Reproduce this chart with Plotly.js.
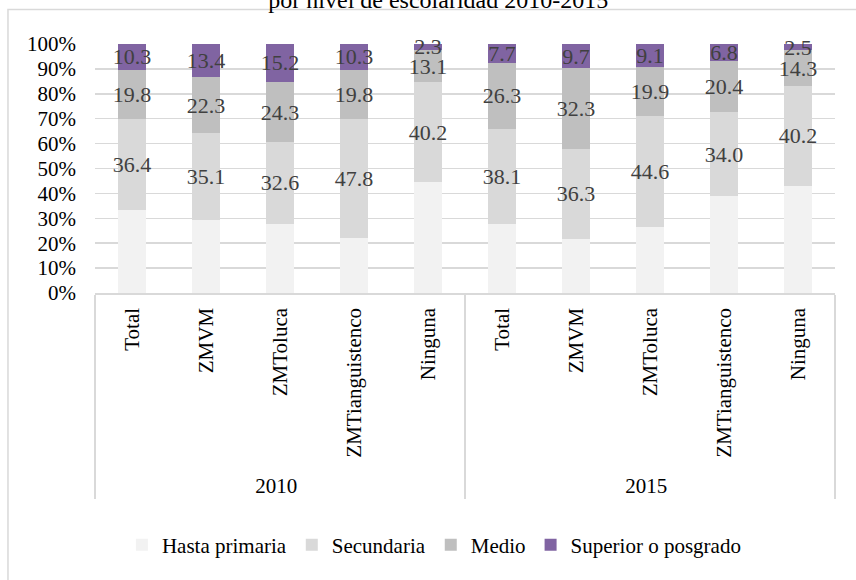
<!DOCTYPE html>
<html>
<head>
<meta charset="utf-8">
<script src="https://cdn.plot.ly/plotly-3.0.1.min.js"></script>
<style>html,body{margin:0;padding:0;background:#fff;}#chart{width:856px;height:580px;}</style>
</head>
<body>
<div id="chart"></div>
<script>
const years = ['2010','2010','2010','2010','2010','2015','2015','2015','2015','2015'];
const regions = ['Total','ZMVM','ZMToluca','ZMTianguistenco','Ninguna','Total','ZMVM','ZMToluca','ZMTianguistenco','Ninguna'];
const hastaPrimaria = [33.5, 29.2, 27.9, 22.1, 44.4, 27.9, 21.7, 26.4, 38.8, 43.0];
const secundaria = [36.4, 35.1, 32.6, 47.8, 40.2, 38.1, 36.3, 44.6, 34.0, 40.2];
const medio = [19.8, 22.3, 24.3, 19.8, 13.1, 26.3, 32.3, 19.9, 20.4, 14.3];
const superior = [10.3, 13.4, 15.2, 10.3, 2.3, 7.7, 9.7, 9.1, 6.8, 2.5];
const seriesNames = ['Hasta primaria','Secundaria','Medio','Superior o posgrado'];
const titleText = 'por nivel de escolaridad 2010-2015';

const colors = ['#f2f2f2','#d9d9d9','#bfbfbf','#8064a2'];
const serif = "'Liberation Serif', 'Times New Roman', Times, serif";
const vals = [hastaPrimaria, secundaria, medio, superior];

const traces = vals.map((v, i) => ({
  type: 'bar',
  name: seriesNames[i],
  x: [years, regions],
  y: v,
  marker: {color: colors[i], line: {width: 0}},
  texttemplate: i === 0 ? '' : '%{y:.1f}',
  textposition: i === 0 ? 'none' : 'inside',
  insidetextanchor: 'middle',
  textangle: 0,
  constraintext: 'none',
  cliponaxis: false,
  insidetextfont: {family: serif, size: 22, color: '#404040'},
  hoverinfo: 'skip'
}));

const layout = {
  width: 856, height: 580,
  paper_bgcolor: '#ffffff', plot_bgcolor: '#ffffff',
  barmode: 'stack',
  bargap: 0.61,
  margin: {l: 95, r: 21, t: 44, b: 287, pad: 0},
  font: {family: serif, size: 21, color: '#000000'},
  uniformtext: {mode: 'show', minsize: 22},
  title: {text: titleText, font: {family: serif, size: 24, color: '#000'}, x: 0.512, xanchor: 'center', xref: 'container', y: 1, yref: 'container', yanchor: 'middle'},
  showlegend: true,
  legend: {orientation: 'h', x: 0.458, xanchor: 'center', y: -1.012, yanchor: 'middle', font: {family: serif, size: 21, color: '#000'}, traceorder: 'normal', itemwidth: 30},
  xaxis: {
    type: 'multicategory',
    tickangle: -90,
    showline: true, linecolor: '#d9d9d9', linewidth: 1.5,
    showgrid: false,
    ticks: '',
    showdividers: true, dividercolor: '#d9d9d9', dividerwidth: 1.5,
    tickfont: {family: serif, size: 21, color: '#000'},
    ticklabelstandoff: 5
  },
  yaxis: {
    range: [0, 100], dtick: 10, ticksuffix: '%',
    showgrid: true, gridcolor: '#d9d9d9', gridwidth: 1.5,
    zeroline: false, showline: false, ticks: '',
    tickfont: {family: serif, size: 21, color: '#000'},
    ticklabelstandoff: 18
  },
  shapes: [
    {type: 'rect', xref: 'paper', yref: 'paper', x0: -0.1176, x1: 1.04, y0: -1.17, y1: 1.1386, line: {color: '#d9d9d9', width: 1.5}, fillcolor: 'rgba(0,0,0,0)', layer: 'above'}
  ]
};

Plotly.newPlot('chart', traces, layout, {displayModeBar: false, staticPlot: true});
</script>
</body>
</html>
